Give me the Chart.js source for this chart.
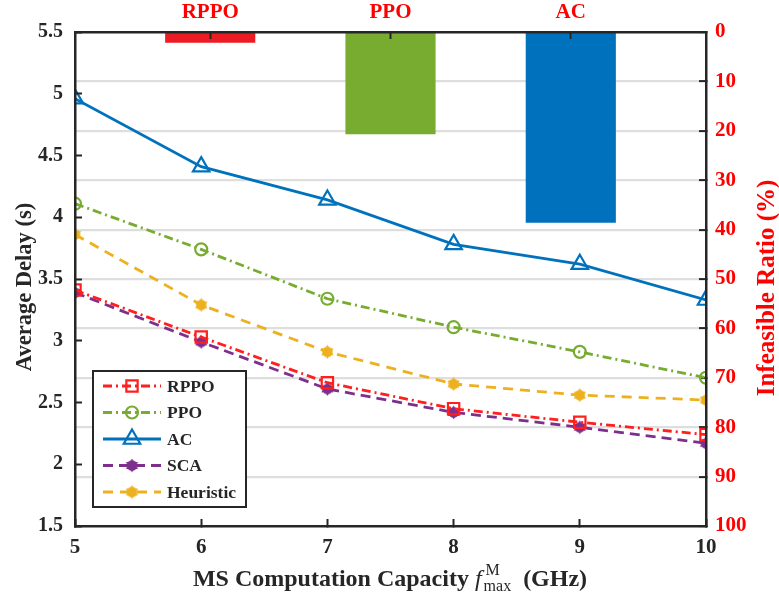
<!DOCTYPE html>
<html>
<head>
<meta charset="utf-8">
<script src="https://cdn.jsdelivr.net/npm/chart.js@4/dist/chart.umd.min.js"></script>
<style>
  html, body { margin: 0; padding: 0; background: #fff; }
  canvas { display: block; }
</style>
</head>
<body>
<canvas id="chart" width="779" height="599"></canvas>
<script>
// valores
const capacity = [5, 6, 7, 8, 9, 10];
const rppoDelay = [3.41, 3.03, 2.66, 2.45, 2.34, 2.24];
const ppoDelay = [4.11, 3.74, 3.34, 3.11, 2.91, 2.70];
const acDelay = [4.96, 4.41, 4.14, 3.78, 3.62, 3.33];
const scaDelay = [3.39, 2.99, 2.61, 2.42, 2.30, 2.17];
const heuristicDelay = [3.86, 3.29, 2.91, 2.65, 2.56, 2.52];

const barAlgos = ['RPPO', 'PPO', 'AC'];
const infeasibleRatio = [2.2, 20.7, 38.6];

const capacityTicks = [5, 6, 7, 8, 9, 10];
const delayTicks = [1.5, 2, 2.5, 3, 3.5, 4, 4.5, 5, 5.5];
const ratioTicks = [0, 10, 20, 30, 40, 50, 60, 70, 80, 90, 100];

const FONT = "'Liberation Serif', 'Times New Roman', serif";
const DARK = '#262626';
const RED = '#ff0000';

Chart.defaults.font.family = FONT;
Chart.defaults.font.weight = 'bold';
Chart.defaults.color = DARK;

function pts(vals) {
    return capacity.map((x, i) => ({ x: x, y: vals[i] }));
}

// marcador estrela de seis pontas (preenchido)
function hexagram(color) {
    const c = document.createElement('canvas');
    c.width = 15; c.height = 15;
    const g = c.getContext('2d');
    g.fillStyle = color;
    [-Math.PI / 2, Math.PI / 2].forEach(off => {
        g.beginPath();
        for (let k = 0; k < 3; k++) {
            const a = off + k * 2 * Math.PI / 3;
            const px = 7.5 + 7 * Math.cos(a), py = 7.5 + 7 * Math.sin(a);
            if (k) g.lineTo(px, py); else g.moveTo(px, py);
        }
        g.closePath();
        g.fill();
    });
    g.beginPath();
    g.arc(7.5, 7.5, 5.2, 0, 2 * Math.PI);
    g.fill();
    return c;
}

function lineSet(label, vals, color, dash, style, radius) {
    return {
        type: 'line', label: label, data: pts(vals),
        xAxisID: 'x', yAxisID: 'y',
        borderColor: color, backgroundColor: 'rgba(0,0,0,0)',
        borderWidth: 2.8, borderDash: dash, tension: 0, fill: false,
        pointStyle: style, pointRadius: radius,
        pointBorderColor: color, pointBackgroundColor: 'rgba(0,0,0,0)',
        pointBorderWidth: 2.2, order: 0
    };
}

const axisBorder = { display: true, color: DARK, width: 2.5, z: 2 };
const inTicks = { drawOnChartArea: false, drawTicks: true, offset: false, tickLength: -7, tickColor: DARK, tickWidth: 2, z: 1 };

// titulos dos eixos e legenda
const decorations = {
    id: 'decorations',
    afterDraw(chart) {
        const ctx = chart.ctx;
        ctx.save();
        ctx.textAlign = 'center';
        ctx.textBaseline = 'middle';

        ctx.fillStyle = DARK;
        ctx.font = 'bold 22.5px ' + FONT;
        ctx.save();
        ctx.translate(25, 287);
        ctx.rotate(-Math.PI / 2);
        ctx.fillText('Average Delay (s)', 0, 0);
        ctx.restore();

        ctx.fillStyle = RED;
        ctx.font = 'bold 25px ' + FONT;
        ctx.save();
        ctx.translate(768, 288);
        ctx.rotate(-Math.PI / 2);
        ctx.fillText('Infeasible Ratio (%)', 0, 0);
        ctx.restore();

        // MS Computation Capacity f_max^M (GHz)
        const parts = [
            { t: 'MS Computation Capacity ', f: 'bold 24px ' + FONT, dy: 0 },
            { t: 'f', f: 'italic 24px ' + FONT, dy: 0 },
            { t: 'M', f: '16px ' + FONT, dy: -11, sup: true },
            { t: 'max', f: '16px ' + FONT, dy: 5 },
            { t: '  (GHz)', f: 'bold 24px ' + FONT, dy: 0 }
        ];
        let total = 0;
        parts.forEach(p => {
            ctx.font = p.f;
            p.w = ctx.measureText(p.t).width;
            if (!p.sup) total += p.w;
        });
        let x = 389 - total / 2;
        const base = 586;
        ctx.fillStyle = DARK;
        ctx.textAlign = 'left';
        ctx.textBaseline = 'alphabetic';
        parts.forEach(p => {
            ctx.font = p.f;
            ctx.fillText(p.t, x + (p.t === 'M' ? 2 : 0), base + p.dy);
            if (!p.sup) x += p.w + (p.t === 'f' ? 2 : 0);
        });

        // legenda
        const box = { l: 93, t: 371, r: 246, b: 507 };
        ctx.fillStyle = '#ffffff';
        ctx.fillRect(box.l, box.t, box.r - box.l, box.b - box.t);
        ctx.strokeStyle = DARK;
        ctx.lineWidth = 2;
        ctx.strokeRect(box.l, box.t, box.r - box.l, box.b - box.t);

        const lines = chart.data.datasets.filter(d => d.type === 'line');
        lines.forEach((d, i) => {
            const y = 386 + i * 26.5;
            ctx.strokeStyle = d.borderColor;
            ctx.lineWidth = d.borderWidth;
            ctx.setLineDash(d.borderDash);
            ctx.beginPath();
            ctx.moveTo(103, y);
            ctx.lineTo(161, y);
            ctx.stroke();
            ctx.setLineDash([]);
            ctx.lineWidth = d.pointBorderWidth;
            ctx.fillStyle = 'rgba(0,0,0,0)';
            Chart.helpers.drawPoint(ctx, {
                pointStyle: d.pointStyle, radius: d.pointRadius,
                borderWidth: d.pointBorderWidth, rotation: 0
            }, 132, y);
            ctx.fillStyle = DARK;
            ctx.font = 'bold 17.5px ' + FONT;
            ctx.textBaseline = 'middle';
            ctx.fillText(d.label, 167, y + 1);
        });
        ctx.restore();
    }
};

const ctx = document.getElementById('chart').getContext('2d');
new Chart(ctx, {
    type: 'line',
    data: {
        datasets: [
            lineSet('RPPO', rppoDelay, '#ff1f1f', [9, 4, 2, 4], 'rect', 8),
            lineSet('PPO', ppoDelay, '#77ac30', [9, 4, 2, 4], 'circle', 6),
            lineSet('AC', acDelay, '#0072bd', [], 'triangle', 9.5),
            lineSet('SCA', scaDelay, '#7e2f8e', [10, 6], hexagram('#7e2f8e'), 6),
            lineSet('Heuristic', heuristicDelay, '#edb120', [10, 7], hexagram('#edb120'), 6),
            {
                type: 'bar', label: 'Infeasible Ratio',
                data: barAlgos.map((_, i) => ({ x: i + 1, y: infeasibleRatio[i] })),
                xAxisID: 'xBar', yAxisID: 'yRatio',
                backgroundColor: ['#ed1c24', '#77ac30', '#0072bd'],
                borderWidth: 0, barPercentage: 0.5, categoryPercentage: 1,
                grouped: false, order: 1
            }
        ]
    },
    options: {
        responsive: false,
        animation: false,
        devicePixelRatio: 1,
        layout: { padding: 0 },
        plugins: { legend: { display: false }, tooltip: { enabled: false } },
        scales: {
            x: {
                type: 'linear', position: 'bottom', min: 5, max: 10, offset: false,
                afterBuildTicks: s => { s.ticks = capacityTicks.map(v => ({ value: v })); },
                afterFit: s => { s.height = 73; },
                grid: inTicks, border: axisBorder,
                ticks: { font: { size: 21 }, padding: 16, maxRotation: 0, callback: v => String(v) }
            },
            xBar: {
                type: 'linear', position: 'top', min: 0.25, max: 3.75, offset: false,
                afterBuildTicks: s => { s.ticks = barAlgos.map((_, i) => ({ value: i + 1 })); },
                afterFit: s => { s.height = 32; },
                grid: inTicks, border: axisBorder,
                ticks: { color: RED, font: { size: 21 }, padding: 14, maxRotation: 0,
                    callback: v => barAlgos[Math.round(v) - 1] }
            },
            y: {
                type: 'linear', position: 'left', min: 1.5, max: 5.5,
                afterBuildTicks: s => { s.ticks = delayTicks.map(v => ({ value: v })); },
                afterFit: s => { s.width = 75; },
                grid: inTicks, border: axisBorder,
                ticks: { font: { size: 20 }, padding: 19, callback: v => String(v) }
            },
            yRatio: {
                type: 'linear', position: 'right', min: 0, max: 100, reverse: true,
                beginAtZero: false,
                afterBuildTicks: s => { s.ticks = ratioTicks.map(v => ({ value: v })); },
                afterFit: s => { s.width = 73; },
                grid: {
                    drawOnChartArea: true, lineWidth: 2.2,
                    color: c => (c.tick && (c.tick.value === 0 || c.tick.value === 100)) ? 'rgba(0,0,0,0)' : '#dedede',
                    drawTicks: true, tickLength: -7, tickColor: DARK, tickWidth: 2
                },
                border: axisBorder,
                ticks: { color: RED, font: { size: 21 }, padding: 16, callback: v => String(v) }
            }
        }
    },
    plugins: [decorations]
});
</script>
</body>
</html>
